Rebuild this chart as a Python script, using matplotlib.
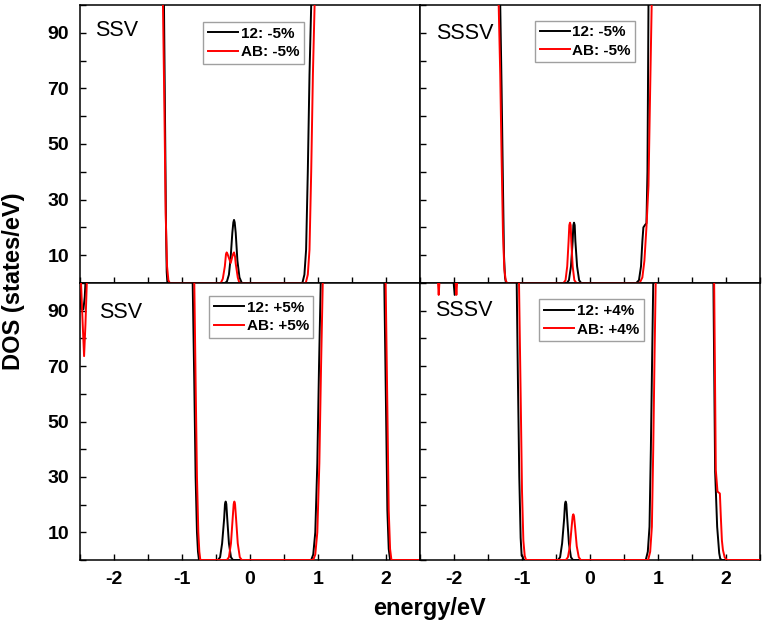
import matplotlib
matplotlib.use('Agg')
import matplotlib.pyplot as plt
from matplotlib.ticker import MultipleLocator, FixedLocator

plt.rcParams['font.family'] = ['Liberation Sans', 'DejaVu Sans']
plt.rcParams['axes.unicode_minus'] = False

# values above 100 are off the chart (curve leaves the top)

# SSV, -5%
ssv_m5_e_12 = [-2.5, -1.28, -1.265, -1.25, -1.235, -1.225, -1.215,
               -0.37, -0.34, -0.31, -0.285, -0.26, -0.245, -0.235, -0.225, -0.21, -0.185, -0.155, -0.12,
               0.77, 0.80, 0.825, 0.85, 0.875, 0.90, 0.93, 2.5]
ssv_m5_dos_12 = [120, 120, 100, 60, 20, 4, 0,
                 0, 0.5, 3, 9, 18, 21.8, 22.7, 21.8, 18, 8, 2, 0,
                 0, 3, 12, 40, 75, 100, 120, 120]
ssv_m5_e_ab = [-2.5, -1.30, -1.28, -1.26, -1.24, -1.22, -1.20, -1.18,
               -0.43, -0.40, -0.37, -0.353, -0.343, -0.33, -0.31, -0.284, -0.26, -0.245, -0.235, -0.22, -0.21, -0.18, -0.16, -0.145,
               0.82, 0.85, 0.875, 0.90, 0.925, 0.95, 0.97, 2.5]
ssv_m5_dos_ab = [120, 120, 100, 65, 25, 6, 1, 0,
                 0, 1.5, 6, 10.4, 11, 10.4, 9, 7.2, 9.5, 10.6, 11, 9.5, 7, 2, 0.3, 0,
                 0, 3, 12, 40, 75, 100, 120, 120]

# SSSV, -5%
sssv_m5_e_12 = [-2.5, -1.34, -1.32, -1.30, -1.28, -1.265, -1.25, -1.235,
                -0.34, -0.31, -0.28, -0.255, -0.245, -0.235, -0.225, -0.215, -0.19, -0.16, -0.13,
                0.68, 0.72, 0.75, 0.77, 0.785, 0.81, 0.83, 0.845, 0.86, 0.88, 2.5]
sssv_m5_dos_12 = [120, 120, 100, 70, 35, 10, 2, 0,
                  0, 1, 6, 15, 20.8, 21.7, 20.8, 15, 6, 1, 0,
                  0, 1, 6, 15, 20, 20.9, 21.5, 40, 100, 120, 120]
sssv_m5_e_ab = [-2.5, -1.36, -1.343, -1.32, -1.30, -1.28, -1.26, -1.24, -1.22,
                -0.39, -0.36, -0.335, -0.315, -0.304, -0.294, -0.284, -0.275, -0.255, -0.23, -0.20,
                0.73, 0.77, 0.80, 0.83, 0.86, 0.885, 0.907, 0.93, 2.5]
sssv_m5_dos_ab = [120, 120, 100, 75, 45, 18, 5, 1, 0,
                  0, 1, 6, 15, 20.8, 21.7, 20.8, 15, 6, 1, 0,
                  0, 2, 8, 20, 35, 70, 100, 120, 120]

# SSV, +5%
ssv_p5_e_12 = [-2.5, -2.49, -2.48, -2.45, -2.43, -2.41, -2.39,
               -0.86, -0.843, -0.82, -0.80, -0.78, -0.765, -0.75,
               -0.47, -0.44, -0.41, -0.38, -0.368, -0.358, -0.348, -0.335, -0.31, -0.28, -0.25,
               0.90, 0.93, 0.96, 0.99, 1.015, 1.04, 1.06,
               1.96, 1.975, 2.00, 2.02, 2.04, 2.06, 2.5]
ssv_p5_dos_12 = [110, 95, 90.5, 90.5, 95, 105, 120,
                 120, 100, 65, 30, 10, 3, 0,
                 0, 1, 6, 15, 20.2, 21.1, 20.2, 15, 6, 1, 0,
                 0, 2, 10, 35, 70, 100, 120,
                 120, 100, 55, 18, 4, 0, 0]
ssv_p5_e_ab = [-2.5, -2.485, -2.46, -2.44, -2.42, -2.40, -2.38, -2.36,
               -0.84, -0.819, -0.80, -0.78, -0.76, -0.745, -0.73,
               -0.34, -0.31, -0.28, -0.255, -0.24, -0.23, -0.22, -0.205, -0.18, -0.15, -0.12,
               0.93, 0.96, 0.99, 1.02, 1.045, 1.07, 1.09,
               1.98, 1.995, 2.02, 2.04, 2.06, 2.08, 2.5]
ssv_p5_dos_ab = [120, 100, 85, 73.6, 85, 100, 120, 120,
                 120, 100, 65, 30, 10, 3, 0,
                 0, 1, 6, 15, 20.2, 21.1, 20.2, 15, 6, 1, 0,
                 0, 2, 10, 35, 70, 100, 120,
                 120, 100, 55, 18, 4, 0, 0]

# SSSV, +4%
sssv_p4_e_12 = [-2.5, -2.02, -2.005, -1.99, -1.975, -1.96,
                -1.10, -1.078, -1.06, -1.04, -1.02, -1.005, -0.99, -0.98, -0.97,
                -0.47, -0.44, -0.41, -0.38, -0.368, -0.358, -0.348, -0.335, -0.31, -0.28, -0.25,
                0.82, 0.85, 0.875, 0.895, 0.915, 0.93, 0.95,
                1.80, 1.815, 1.84, 1.87, 1.90, 1.915, 1.935, 2.5]
sssv_p4_dos_12 = [120, 120, 100, 95.7, 100, 120,
                  120, 100, 65, 30, 8, 1.5, 1.2, 0.3, 0,
                  0, 1, 6, 15, 20.2, 21.1, 20.2, 15, 6, 1, 0,
                  0, 3, 12, 40, 75, 100, 120,
                  120, 100, 32, 12, 2.5, 0.5, 0, 0]
sssv_p4_e_ab = [-2.5, -2.25, -2.235, -2.225, -2.215, -2.20,
                -1.99, -1.975, -1.965, -1.955, -1.94,
                -1.06, -1.044, -1.02, -1.00, -0.98, -0.96, -0.94,
                -0.355, -0.325, -0.295, -0.27, -0.255, -0.245, -0.235, -0.22, -0.195, -0.165, -0.135,
                0.855, 0.885, 0.91, 0.93, 0.95, 0.966, 0.99,
                1.81, 1.826, 1.85, 1.875, 1.91, 1.925, 1.94, 1.955, 1.98, 2.01, 2.5]
sssv_p4_dos_ab = [120, 120, 100, 95.7, 100, 120,
                  120, 100, 95.7, 100, 120,
                  120, 100, 60, 25, 7, 1.5, 0,
                  0, 1, 5, 12, 15.8, 16.5, 15.8, 12, 5, 1, 0,
                  0, 3, 12, 40, 75, 100, 120,
                  120, 100, 32.5, 24.7, 24, 15, 7, 3.6, 1, 0, 0]

panel_names = ['SSV', 'SSSV', 'SSV', 'SSSV']
legend_12 = ['12: -5%', '12: -5%', '12: +5%', '12: +4%']
legend_ab = ['AB: -5%', 'AB: -5%', 'AB: +5%', 'AB: +4%']
x_ticks = [-2, -1, 0, 1, 2]
y_ticks = [10, 30, 50, 70, 90]

curves = [
    (ssv_m5_e_12, ssv_m5_dos_12, ssv_m5_e_ab, ssv_m5_dos_ab),
    (sssv_m5_e_12, sssv_m5_dos_12, sssv_m5_e_ab, sssv_m5_dos_ab),
    (ssv_p5_e_12, ssv_p5_dos_12, ssv_p5_e_ab, ssv_p5_dos_ab),
    (sssv_p4_e_12, sssv_p4_dos_12, sssv_p4_e_ab, sssv_p4_dos_ab),
]

W, H = 765, 630
fig = plt.figure(figsize=(W / 100, H / 100), dpi=100)

# axes boxes in pixels: left, top, width, height
boxes = [(80, 5, 340, 278), (420, 5, 340, 278),
         (80, 283, 340, 277), (420, 283, 340, 277)]
name_pos = [(0.044, 0.888), (0.047, 0.878), (0.057, 0.875), (0.044, 0.88)]
leg_pos = [(0.362, 0.939), (0.338, 0.944), (0.380, 0.953), (0.351, 0.941)]

for i in range(4):
    l, t, w, h = boxes[i]
    ax = fig.add_axes([l / W, 1 - (t + h) / H, w / W, h / H])
    e12, d12, eab, dab = curves[i]
    ax.plot(e12, d12, color='black', lw=1.4, label=legend_12[i], zorder=3)
    ax.plot(eab, dab, color='red', lw=1.4, label=legend_ab[i], zorder=3)
    ax.set_xlim(-2.5, 2.5)
    ax.set_ylim(0, 100)

    ax.xaxis.set_major_locator(FixedLocator(x_ticks))
    ax.xaxis.set_minor_locator(MultipleLocator(0.5))
    ax.yaxis.set_major_locator(FixedLocator(y_ticks))
    ax.yaxis.set_minor_locator(MultipleLocator(10))
    ax.tick_params(which='both', direction='in', length=4.5, width=1,
                   top=False, right=False, labelsize=14, pad=8)
    for lab in ax.get_xticklabels() + ax.get_yticklabels():
        lab.set_fontweight('bold')
    if i < 2:
        ax.tick_params(labelbottom=False)
    if i % 2 == 1:
        ax.tick_params(labelleft=False)
    for sp in ax.spines.values():
        sp.set_linewidth(1.1)

    ax.text(name_pos[i][0], name_pos[i][1], panel_names[i], transform=ax.transAxes,
            fontsize=15.5, ha='left', va='baseline')
    leg = ax.legend(loc='upper left', bbox_to_anchor=leg_pos[i], borderaxespad=0,
                    fancybox=False, edgecolor='#a0a0a0', framealpha=1,
                    prop={'weight': 'bold', 'size': 11},
                    handlelength=2.0, handletextpad=0.15, labelspacing=0.3,
                    borderpad=0.3)
    leg.get_frame().set_linewidth(1.0)

fig.text(14 / W, 1 - 281 / H, 'DOS (states/eV)', rotation=90, fontsize=17,
         fontweight='bold', ha='center', va='center')
fig.text(430 / W, 1 - 608 / H, 'energy/eV', fontsize=17,
         fontweight='bold', ha='center', va='center')

fig.savefig('out.png', dpi=100)
